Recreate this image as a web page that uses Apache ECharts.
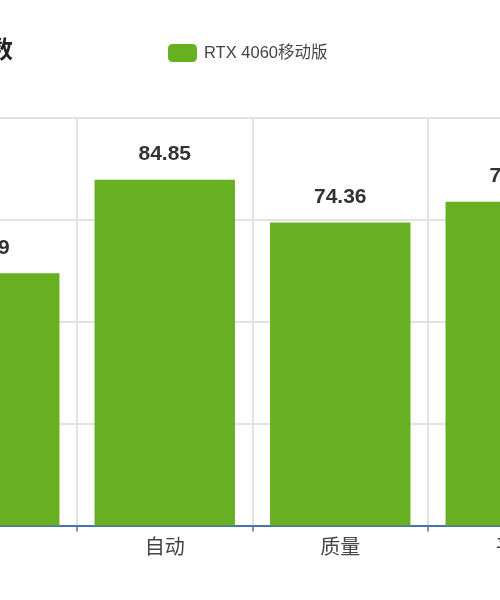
<!DOCTYPE html>
<html>
<head>
<meta charset="utf-8">
<style>
html,body{margin:0;padding:0;width:500px;height:600px;overflow:hidden;background:#fff;}
#chart{position:absolute;left:-200px;top:0;width:900px;height:600px;}
</style>
<script src="https://cdn.jsdelivr.net/npm/echarts@6/dist/echarts.min.js"></script>
</head>
<body>
<div id="chart"></div>
<script>
var titleText = '平均帧数';
var seriesName = 'RTX 4060移动版';
var categories = ['无', '自动', '质量', '平衡'];
var values = [61.9, 84.85, 74.36, 79.42];
var yTicks = [0, 25, 50, 75, 100];

var FONT = '"Liberation Sans", "Noto Sans CJK SC", sans-serif';
var chart = echarts.init(document.getElementById('chart'), null, {renderer: 'canvas'});
chart.setOption({
  backgroundColor: '#ffffff',
  animation: false,
  textStyle: {fontFamily: FONT},
  title: {
    text: titleText,
    left: 112,
    top: 34,
    textStyle: {fontSize: 24, fontWeight: 'bold', color: '#222', fontFamily: FONT}
  },
  legend: {
    data: [seriesName],
    left: 363,
    top: 39,
    itemWidth: 29,
    itemHeight: 18,
    itemGap: 10,
    icon: 'roundRect',
    textStyle: {fontSize: 16.5, color: '#444', fontFamily: FONT, padding: [0, 0, 0, 2]}
  },
  grid: {left: 101.5, top: 118, width: 702, height: 407.5, containLabel: false},
  xAxis: {
    type: 'category',
    data: categories,
    axisLine: {show: true, lineStyle: {color: '#4a74a8', width: 2}},
    axisTick: {show: true, length: 6, lineStyle: {color: '#4a74a8', width: 1.5}},
    axisLabel: {fontSize: 20, color: '#444', margin: 13, fontFamily: FONT},
    splitLine: {show: true, lineStyle: {color: '#e2e2e2', width: 2}}
  },
  yAxis: {
    type: 'value',
    min: yTicks[0],
    max: yTicks[yTicks.length - 1],
    interval: yTicks[1] - yTicks[0],
    axisLine: {show: false},
    axisTick: {show: false},
    axisLabel: {show: true, color: '#444', fontSize: 16},
    splitLine: {show: true, lineStyle: {color: '#e2e2e2', width: 2}}
  },
  series: [{
    name: seriesName,
    type: 'bar',
    data: values,
    barCategoryGap: '20%',
    itemStyle: {color: '#66b022'},
    label: {
      show: true,
      position: 'top',
      distance: 15,
      fontSize: 21,
      fontWeight: 'bold',
      color: '#333',
      fontFamily: FONT
    }
  }]
});
</script>
</body>
</html>
